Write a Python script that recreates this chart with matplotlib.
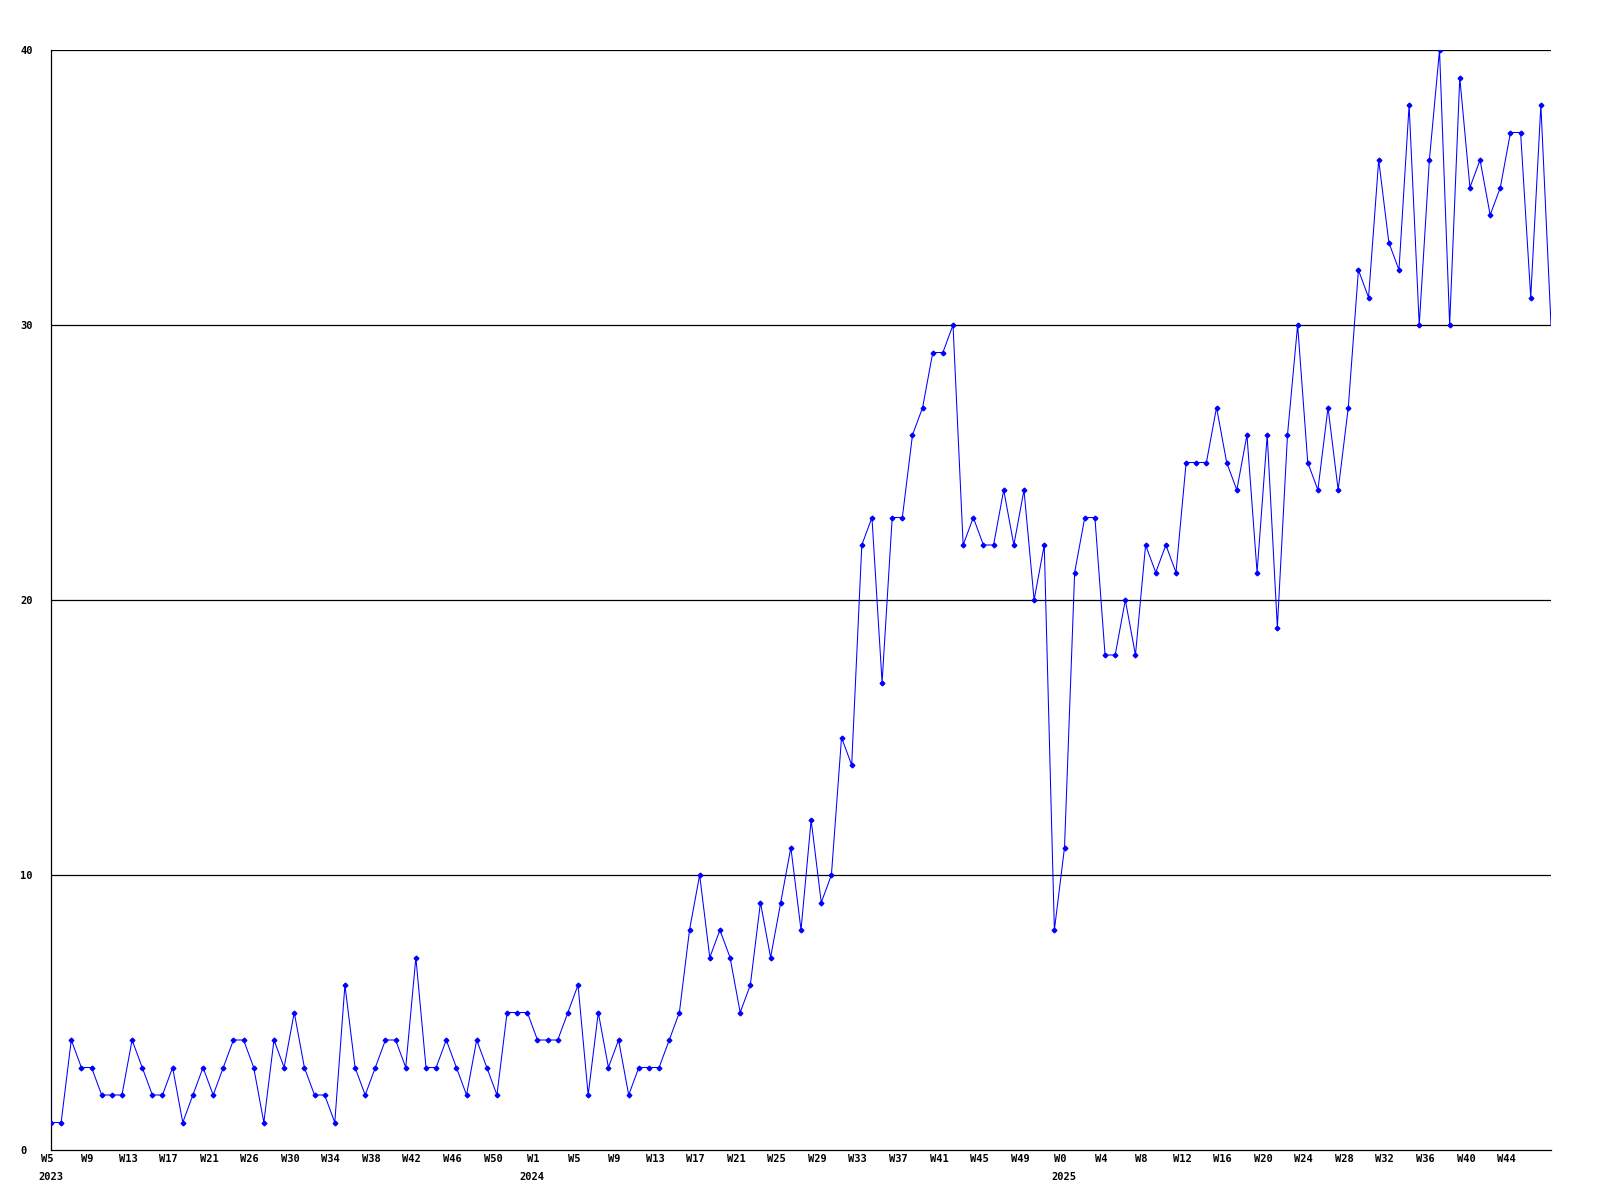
import matplotlib
matplotlib.use("Agg")
import matplotlib.pyplot as plt
import matplotlib.transforms as mtrans

values = [1, 1, 4, 3, 3, 2, 2, 2, 4, 3, 2, 2, 3, 1, 2, 3, 2, 3, 4, 4,
          3, 1, 4, 3, 5, 3, 2, 2, 1, 6, 3, 2, 3, 4, 4, 3, 7, 3, 3, 4,
          3, 2, 4, 3, 2, 5, 5, 5, 4, 4, 4, 5, 6, 2, 5, 3, 4, 2, 3, 3,
          3, 4, 5, 8, 10, 7, 8, 7, 5, 6, 9, 7, 9, 11, 8, 12, 9, 10, 15, 14,
          22, 23, 17, 23, 23, 26, 27, 29, 29, 30, 22, 23, 22, 22, 24, 22, 24, 20, 22, 8,
          11, 21, 23, 23, 18, 18, 20, 18, 22, 21, 22, 21, 25, 25, 25, 27, 25, 24, 26, 21,
          26, 19, 26, 30, 25, 24, 27, 24, 27, 32, 31, 36, 33, 32, 38, 30, 36, 40, 30, 39,
          35, 36, 34, 35, 37, 37, 31, 38, 30]

tick_labels = ["W5", "W9", "W13", "W17", "W21", "W26", "W30", "W34", "W38", "W42",
               "W46", "W50", "W1", "W5", "W9", "W13", "W17", "W21", "W25", "W29",
               "W33", "W37", "W41", "W45", "W49", "W0", "W4", "W8", "W12", "W16",
               "W20", "W24", "W28", "W32", "W36", "W40", "W44"]
tick_step = 4
years = ["2023", "2024", "2025"]
year_tick_index = [0, 12, 25]
y_ticks = [0, 10, 20, 30, 40]

font = dict(family="DejaVu Sans Mono", weight="bold", size=7.5)

fig = plt.figure(figsize=(16, 12), dpi=100)
ax = fig.add_axes([51 / 1600, 1 - 1150 / 1200, 1500 / 1600, 1100 / 1200])

x = list(range(len(values)))
for yv in y_ticks[1:]:
    ax.axhline(yv, color="black", linewidth=0.9, zorder=1)
ax.plot(x, values, color="#0000ff", linewidth=0.75, marker="D", markersize=2.4,
        markerfacecolor="#0000ff", markeredgecolor="#0000ff",
        markevery=list(range(len(values) - 1)), zorder=3)

ax.set_xlim(0, len(values) - 1)
ax.set_ylim(0, 40)
for s in ["top", "right"]:
    ax.spines[s].set_visible(False)
for s in ["left", "bottom"]:
    ax.spines[s].set_color("black")
    ax.spines[s].set_linewidth(0.9)

xt = [i * tick_step for i in range(len(tick_labels))]
ax.set_xticks(xt)
ax.set_xticklabels(tick_labels, fontdict=font)
ax.tick_params(axis="x", length=0, pad=3)
off = mtrans.ScaledTranslation(-4 / 100, 0, fig.dpi_scale_trans)
for lab in ax.get_xticklabels():
    lab.set_transform(lab.get_transform() + off)

ax.set_yticks(y_ticks)
ax.set_yticklabels([str(v) for v in y_ticks], fontdict=font)
ax.tick_params(axis="y", length=0, pad=22)
for lab in ax.get_yticklabels():
    lab.set_horizontalalignment("left")

for yr, ti in zip(years, year_tick_index):
    xi = xt[ti]
    if yr == "2024":
        ax.annotate(yr, xy=(xi, 0), xycoords="data", xytext=(-6, -27),
                    textcoords="offset pixels", ha="center", va="center", **font)
    else:
        ax.annotate(yr, xy=(xi, 0), xycoords="data", xytext=(-13, -27),
                    textcoords="offset pixels", ha="left", va="center", **font)

fig.savefig("out.png", dpi=100, facecolor="white")
